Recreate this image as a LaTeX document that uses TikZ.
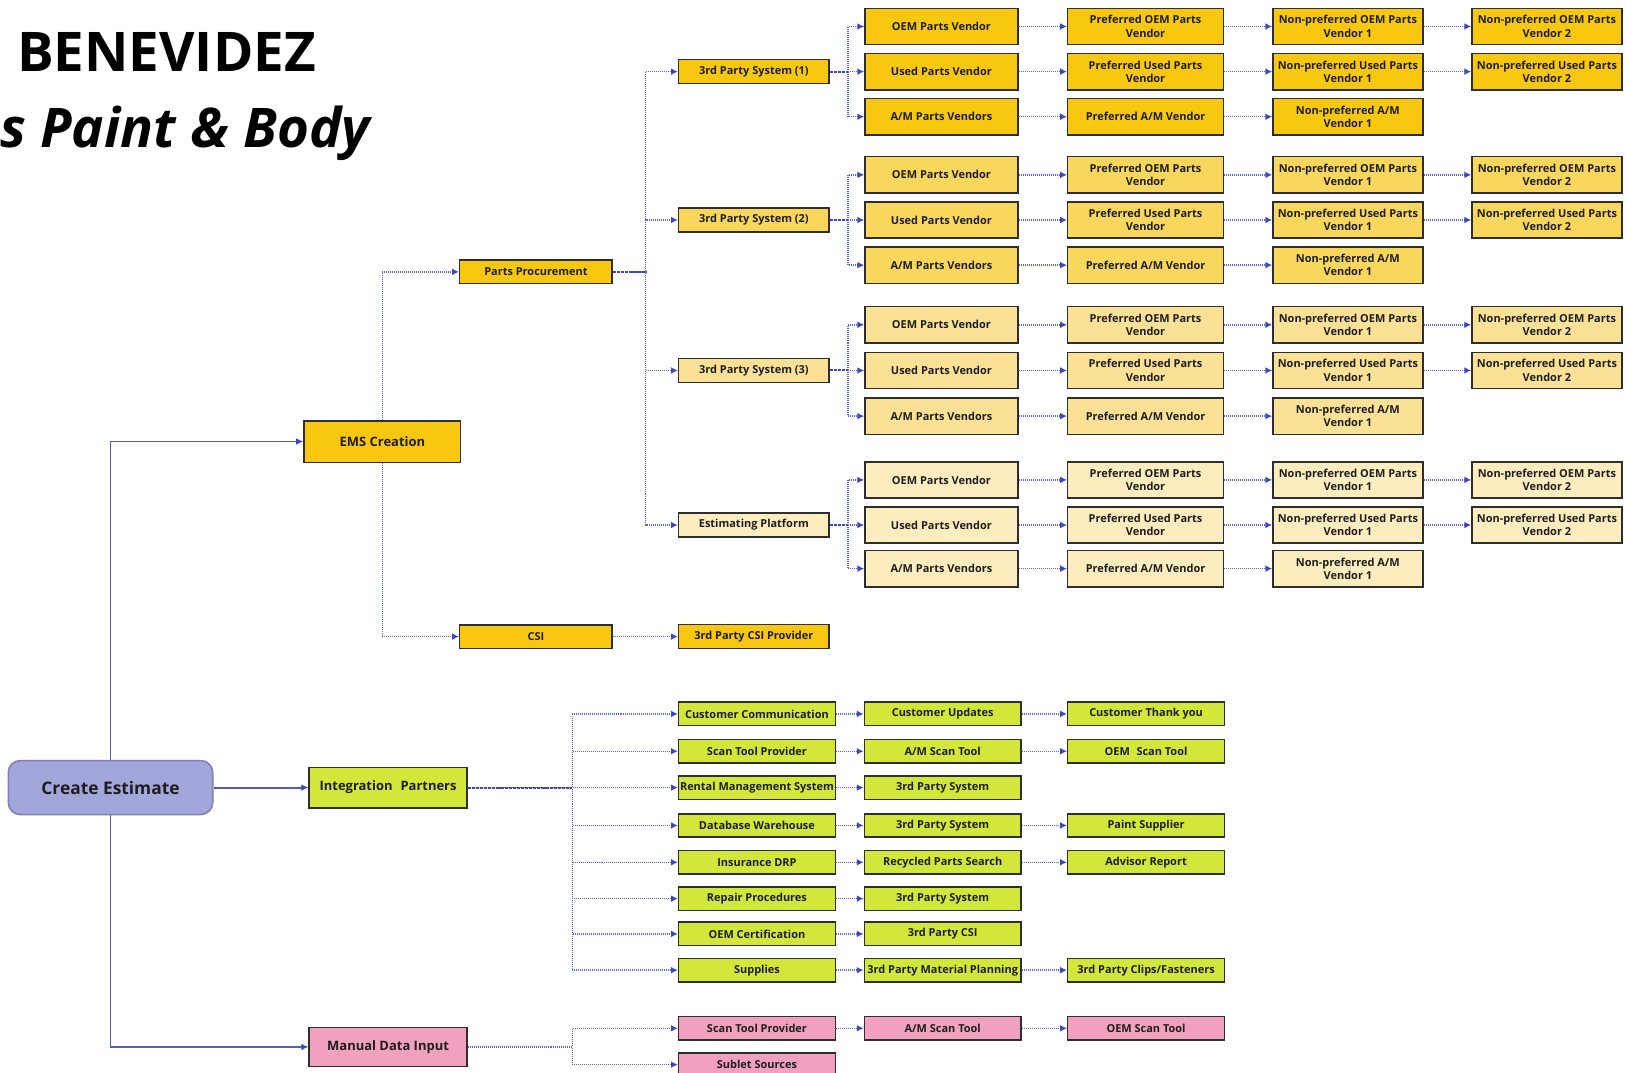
\documentclass[tikz,border=0pt]{standalone}
\usepackage{fontspec}
\setmainfont{Open Sans}
\usetikzlibrary{arrows.meta}
\definecolor{gA}{HTML}{F8C70F}
\definecolor{gB}{HTML}{F9D65C}
\definecolor{gC}{HTML}{FBE196}
\definecolor{gD}{HTML}{FDECBE}
\definecolor{lime}{HTML}{D3E63A}
\definecolor{pinkbox}{HTML}{F1A1BF}
\definecolor{lav}{HTML}{A2A6DA}
\definecolor{lavedge}{HTML}{7E82B4}
\definecolor{edge}{HTML}{2E2E2E}
\definecolor{txt}{HTML}{1E1E1E}
\definecolor{conn}{HTML}{5F67D4}
\definecolor{conndark}{HTML}{3E47C2}
\definecolor{solidc}{HTML}{535BC8}
\begin{document}
\begin{tikzpicture}[x=0.52pt,y=-0.52pt,
  box/.style={draw=edge, line width=0.75pt, inner sep=0.5pt, align=center, text=txt,
    font=\fontsize{5.5pt}{6.7pt}\selectfont\bfseries},
  sysbox/.style={box, minimum width={145*0.52pt}, minimum height={23*0.52pt}},
  vbox/.style={box, minimum width={147.5*0.52pt}, minimum height={35*0.52pt}},
  pbox/.style={box, minimum width={150*0.52pt}, minimum height={35*0.52pt}},
  nbox/.style={box, minimum width={144.5*0.52pt}, minimum height={35*0.52pt}},
  ibox/.style={box, minimum width={151*0.52pt}, minimum height={22.5*0.52pt}},
  midbox/.style={box, minimum width={147*0.52pt}, minimum height={22.5*0.52pt}},
  bigbox/.style={box, minimum width={152*0.52pt}, minimum height={39*0.52pt},
    font=\fontsize{6.5pt}{7.5pt}\selectfont\bfseries},
  dconn/.style={draw=conn, line width=0.75pt, dash pattern=on 0.5pt off 0.5pt,
    -{Latex[length=3.4pt,width=3.4pt,color=conndark]}},
  heavy/.style={draw=conndark, line width=0.95pt, dash pattern=on 1.6pt off 0.45pt},
  sconn/.style={draw=solidc, line width=0.95pt, -{Latex[length=3.6pt,width=3.4pt,color=conndark]}},
  title/.style={inner sep=0pt, text=black, font=\fontsize{27.4pt}{30pt}\selectfont\bfseries}
]
\useasboundingbox (0,0) rectangle (1568,1034);
\clip (0,0) rectangle (1568,1034);
\fill[white] (0,0) rectangle (1568,1034);

% titles
\node[title, anchor=base west] (t1) at (16,69) {BENEVIDEZ};
\node[title, anchor=base east, font=\fontsize{27.4pt}{30pt}\selectfont\bfseries\itshape] (t2) at (357,142) {s Paint \& Body};

% root
\node[draw=lavedge, fill=lav, line width=0.8pt, rounded corners=6pt, text=txt,
  minimum width={197*0.52pt}, minimum height={52*0.52pt},
  font=\fontsize{8.7pt}{10pt}\selectfont\bfseries] (ce) at (106.5,759) {Create Estimate};

% level 1
\node[bigbox, fill=gA, minimum width={151*0.52pt}, minimum height={40*0.52pt}] (ems) at (368.5,425.5) {EMS Creation};
\node[bigbox, fill=lime] (ip) at (374,759) {Integration\hspace{0.35em} Partners};
\node[bigbox, fill=pinkbox, minimum height={38*0.52pt}] (mdi) at (374,1009) {Manual Data Input};

\draw[sconn] (ce.north) |- (ems.west);
\draw[sconn] (ce.east) -- (ip.west);
\draw[sconn] (ce.south) |- (mdi.west);

% level 2 (EMS)
\node[midbox, fill=gA] (pp) at (516.5,262) {Parts Procurement};
\node[midbox, fill=gA] (csi) at (516.5,613.5) {CSI};
\node[sysbox, fill=gA] (csip) at (726.5,613.5) {3rd Party CSI Provider};
\draw[dconn] (ems.north) |- (pp.west);
\draw[dconn] (ems.south) |- (csi.west);
\draw[dconn] (csi.east) -- (csip.west);

% parts groups
\foreach \g/\sy/\yo/\yu/\ya/\col/\lab in {
  1/69/25.5/69/112.5/gA/{3rd Party System (1)},
  2/212/168.5/212/255.5/gB/{3rd Party System (2)},
  3/357/313/357/401/gC/{3rd Party System (3)},
  4/506/462.5/506/548/gD/{Estimating Platform}}{
  \node[sysbox, fill=\col] (sys\g) at (726.5,\sy) {\lab};
  \node[vbox, fill=\col] (oem\g) at (907.3,\yo) {OEM Parts Vendor};
  \node[vbox, fill=\col] (used\g) at (907.3,\yu) {Used Parts Vendor};
  \node[vbox, fill=\col] (am\g) at (907.3,\ya) {A/M Parts Vendors};
  \node[pbox, fill=\col] (poem\g) at (1104,\yo) {Preferred OEM Parts\\Vendor};
  \node[pbox, fill=\col] (pused\g) at (1104,\yu) {Preferred Used Parts\\Vendor};
  \node[pbox, fill=\col] (pam\g) at (1104,\ya) {Preferred A/M Vendor};
  \node[nbox, fill=\col] (noem\g) at (1299,\yo) {Non-preferred OEM Parts\\Vendor 1};
  \node[nbox, fill=\col] (nused\g) at (1299,\yu) {Non-preferred Used Parts\\Vendor 1};
  \node[nbox, fill=\col] (nam\g) at (1299,\ya) {Non-preferred A/M\\Vendor 1};
  \node[nbox, fill=\col] (noemb\g) at (1490.8,\yo) {Non-preferred OEM Parts\\Vendor 2};
  \node[nbox, fill=\col] (nusedb\g) at (1490.8,\yu) {Non-preferred Used Parts\\Vendor 2};
  \draw[dconn] (pp.east) -- ++(31.6,0) |- (sys\g.west);
  \draw[dconn] (sys\g.east) -- ++(17.3,0) |- (oem\g.west);
  \draw[dconn] (sys\g.east) -- ++(17.3,0) |- (used\g.west);
  \draw[dconn] (sys\g.east) -- ++(17.3,0) |- (am\g.west);
  \draw[heavy] (sys\g.east) -- ++(17.3,0);
  \draw[dconn] (oem\g.east) -- (poem\g.west);
  \draw[dconn] (used\g.east) -- (pused\g.west);
  \draw[dconn] (am\g.east) -- (pam\g.west);
  \draw[dconn] (poem\g.east) -- (noem\g.west);
  \draw[dconn] (pused\g.east) -- (nused\g.west);
  \draw[dconn] (pam\g.east) -- (nam\g.west);
  \draw[dconn] (noem\g.east) -- (noemb\g.west);
  \draw[dconn] (nused\g.east) -- (nusedb\g.west);
}
\draw[heavy] (pp.east) -- ++(31.6,0);

% integration partners
\foreach \r/\y/\ta in {
  1/688/{Customer Communication},
  2/724/{Scan Tool Provider},
  3/759/{Rental Management System},
  4/795.5/{Database Warehouse},
  5/831/{Insurance DRP},
  6/866/{Repair Procedures},
  7/900/{OEM Certification},
  8/935/{Supplies}}{
  \node[ibox, fill=lime] (ia\r) at (729.5,\y) {\ta};
  \draw[dconn] (ip.east) -- ++(101,0) |- (ia\r.west);
}
\draw[heavy] (ip.east) -- ++(101,0);
\node[ibox, fill=lime] (ib1) at (908.5,688) {Customer Updates};
\node[ibox, fill=lime] (ib2) at (908.5,724) {A/M Scan Tool};
\node[ibox, fill=lime] (ib3) at (908.5,759) {3rd Party System};
\node[ibox, fill=lime] (ib4) at (908.5,795.5) {3rd Party System};
\node[ibox, fill=lime] (ib5) at (908.5,831) {Recycled Parts Search};
\node[ibox, fill=lime] (ib6) at (908.5,866) {3rd Party System};
\node[ibox, fill=lime] (ib7) at (908.5,900) {3rd Party CSI};
\node[ibox, fill=lime] (ib8) at (908.5,935) {3rd Party Material Planning};
\node[ibox, fill=lime] (ic1) at (1104.5,688) {Customer Thank you};
\node[ibox, fill=lime] (ic2) at (1104.5,724) {OEM\hspace{0.6em}Scan Tool};
\node[ibox, fill=lime] (ic4) at (1104.5,795.5) {Paint Supplier};
\node[ibox, fill=lime] (ic5) at (1104.5,831) {Advisor Report};
\node[ibox, fill=lime] (ic8) at (1104.5,935) {3rd Party Clips/Fasteners};
\foreach \r in {1,...,8}{\draw[dconn] (ia\r.east) -- (ib\r.west);}
\foreach \r in {1,2,4,5,8}{\draw[dconn] (ib\r.east) -- (ic\r.west);}

% manual data input
\node[ibox, fill=pinkbox] (ma1) at (729.5,991) {Scan Tool Provider};
\node[ibox, fill=pinkbox] (ma2) at (729.5,1026) {Sublet Sources};
\node[ibox, fill=pinkbox] (mb1) at (908.5,991) {A/M Scan Tool};
\node[ibox, fill=pinkbox] (mc1) at (1104.5,991) {OEM Scan Tool};
\draw[dconn] (mdi.east) -- ++(101,0) |- (ma1.west);
\draw[dconn] (mdi.east) -- ++(101,0) |- (ma2.west);
\draw[dconn] (ma1.east) -- (mb1.west);
\draw[dconn] (mb1.east) -- (mc1.west);
\end{tikzpicture}
\end{document}
